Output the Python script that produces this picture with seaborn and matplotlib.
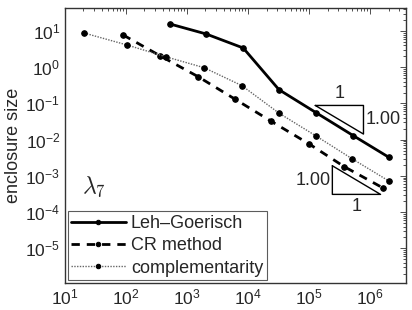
import numpy as np
import pandas as pd
import matplotlib
matplotlib.use("Agg")
import matplotlib.pyplot as plt
import seaborn as sns

# Données
n_leh = [525, 2040, 8300, 32000, 129000, 525000, 2.0e6]
err_leh = [15.6, 8.3, 3.4, 0.24, 0.056, 0.013, 0.0033]

n_cr = [89, 360, 1510, 6200, 24000, 100000, 375000, 1.6e6]
err_cr = [7.8, 2.07, 0.55, 0.129, 0.032, 0.0076, 0.0018, 4.7e-4]

n_comp = [20.5, 104, 450, 1900, 7900, 32000, 130000, 500000, 2.0e6]
err_comp = [8.8, 4.1, 1.94, 0.97, 0.31, 0.054, 0.0126, 0.003, 7.3e-4]

# triangles de pente (coin, largeur en décades)
tri_haut = (1.26e5, 0.088, 0.79)
tri_bas = (2.4e5, 1.9e-3, 0.79)
pente = "1.00"

sns.set_style("white")
plt.rcParams['font.family'] = ['Liberation Sans', 'DejaVu Sans']
plt.rcParams['mathtext.fontset'] = 'custom'
plt.rcParams['mathtext.rm'] = 'Liberation Sans'
plt.rcParams['mathtext.it'] = 'Liberation Sans:italic'

fig = plt.figure(figsize=(4.12, 3.10), dpi=100)
ax = fig.add_axes([0.158, 0.087, 0.828, 0.887])

sns.lineplot(x=n_leh, y=err_leh, ax=ax, color='black', lw=2.0, marker='o',
             markersize=4, markeredgecolor='black', label='Leh\u2013Goerisch')
sns.lineplot(x=n_cr, y=err_cr, ax=ax, color='black', lw=2.0, ls=(0, (3, 2.5)),
             marker='o', markersize=4, markeredgecolor='black', label='CR method')
sns.lineplot(x=n_comp, y=err_comp, ax=ax, color='#666666', lw=1.0, ls=(0, (1, 1)),
             marker='o', markersize=4, markerfacecolor='black',
             markeredgecolor='black', label='complementarity')

ax.set_xscale('log')
ax.set_yscale('log')
ax.set_xlim(10, 3.9e6)
ax.set_ylim(1.1e-6, 43)
ax.set_xticks([1e1, 1e2, 1e3, 1e4, 1e5, 1e6])
ax.set_yticks([1e-5, 1e-4, 1e-3, 1e-2, 1e-1, 1e0, 1e1])
ax.tick_params(which='both', direction='in', top=True, right=True,
               labelsize=12.5, width=0.6, color='#333333')
ax.tick_params(which='major', length=4)
ax.tick_params(which='minor', length=2)
ax.set_ylabel('enclosure size', fontsize=13, labelpad=2)
for s in ax.spines.values():
    s.set_color('#333333')
    s.set_linewidth(1.0)

# triangle du haut (pente -1)
x0, y0, w = tri_haut
x1, y1 = x0 * 10**w, y0 / 10**w
ax.plot([x0, x1, x1, x0], [y0, y0, y1, y0], color='black', lw=1.0)
ax.text(np.sqrt(x0 * x1), y0 * 1.25, '1', fontsize=13, ha='center', va='bottom')
ax.text(x1 * 1.08, np.sqrt(y0 * y1), pente, fontsize=13, ha='left', va='center')

# triangle du bas
x0, y0, w = tri_bas
x1, y1 = x0 * 10**w, y0 / 10**w
ax.plot([x0, x0, x1, x0], [y0, y1, y1, y0], color='black', lw=1.0)
ax.text(x0 * 0.93, np.sqrt(y0 * y1), pente, fontsize=13, ha='right', va='center')
ax.text(np.sqrt(x0 * x1), y1 * 0.8, '1', fontsize=13, ha='center', va='top')

ax.text(0.05, 0.35, r'$\lambda_7$', transform=ax.transAxes, fontsize=17,
        ha='left', va='center', math_fontfamily='cm')

leg = ax.legend(loc='lower left', fontsize=13, frameon=True, fancybox=False,
                borderaxespad=0.15, handlelength=3.0, handletextpad=0.3,
                labelspacing=0.3, borderpad=0.2, markerscale=0.8)
leg.get_frame().set_edgecolor('#333333')
leg.get_frame().set_linewidth(0.8)

fig.savefig('out.png', dpi=100)
